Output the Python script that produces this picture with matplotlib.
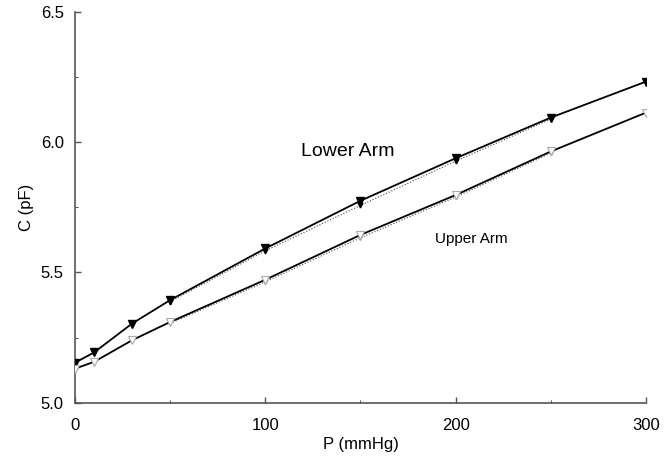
import matplotlib.pyplot as plt
from matplotlib.ticker import MultipleLocator

plt.rcParams['font.family'] = ['Liberation Sans', 'DejaVu Sans']

# pressure steps (mmHg)
pressure = [0, 10, 30, 50, 100, 150, 200, 250, 300]
lower_arm = [5.154, 5.193, 5.304, 5.394, 5.592, 5.775, 5.938, 6.094, 6.232]
upper_arm = [5.131, 5.157, 5.240, 5.310, 5.472, 5.644, 5.797, 5.964, 6.113]

# second (dotted) run
pressure_fit = [50, 100, 150, 200, 250]
lower_fit = [5.388, 5.583, 5.757, 5.927, 6.088]
upper_fit = [5.305, 5.464, 5.633, 5.789, 5.958]

fig = plt.figure(figsize=(6.69, 4.63), dpi=100)
ax = fig.add_axes([0.1121, 0.130, 0.8535, 0.8447])

axis_col = '#555555'

ax.plot(pressure_fit, lower_fit, ':', color='#444444', lw=0.8,
        marker='v', ms=3.5, mfc='black', mec='black', zorder=2)
ax.plot(pressure_fit, upper_fit, ':', color='#444444', lw=0.8,
        marker='v', ms=3.5, mfc='white', mec='#bbbbbb', zorder=2)

ax.plot(pressure, lower_arm, '-', color='black', lw=1.3,
        marker='v', ms=6, mfc='black', mec='black', zorder=3)
ax.plot(pressure, upper_arm, '-', color='black', lw=1.3,
        marker='v', ms=6, mfc='white', mec='#aaaaaa', mew=0.8, zorder=3)

ax.text(119, 5.963, 'Lower Arm', fontsize=14, va='center', ha='left')
ax.text(189, 5.628, 'Upper Arm', fontsize=11, va='center', ha='left')

ax.set_xlim(0, 300)
ax.set_ylim(5.0, 6.5)
ax.xaxis.set_major_locator(MultipleLocator(100))
ax.xaxis.set_minor_locator(MultipleLocator(50))
ax.yaxis.set_major_locator(MultipleLocator(0.5))
ax.yaxis.set_minor_locator(MultipleLocator(0.25))
ax.yaxis.set_major_formatter(plt.FormatStrFormatter('%.1f'))

for side in ['top', 'right']:
    ax.spines[side].set_visible(False)
for side in ['left', 'bottom']:
    ax.spines[side].set_color(axis_col)
    ax.spines[side].set_linewidth(1.2)

ax.tick_params(which='both', direction='in', colors=axis_col, labelcolor='black',
               labelsize=12)
ax.tick_params(which='major', length=4, width=1)
ax.tick_params(which='minor', length=2.5, width=0.8)
ax.tick_params(axis='x', pad=11)
ax.tick_params(axis='y', pad=8)

ax.set_xlabel('P (mmHg)', fontsize=12, labelpad=3)
ax.set_ylabel('C (pF)', fontsize=12, labelpad=5)

fig.savefig('out.png', dpi=100)
